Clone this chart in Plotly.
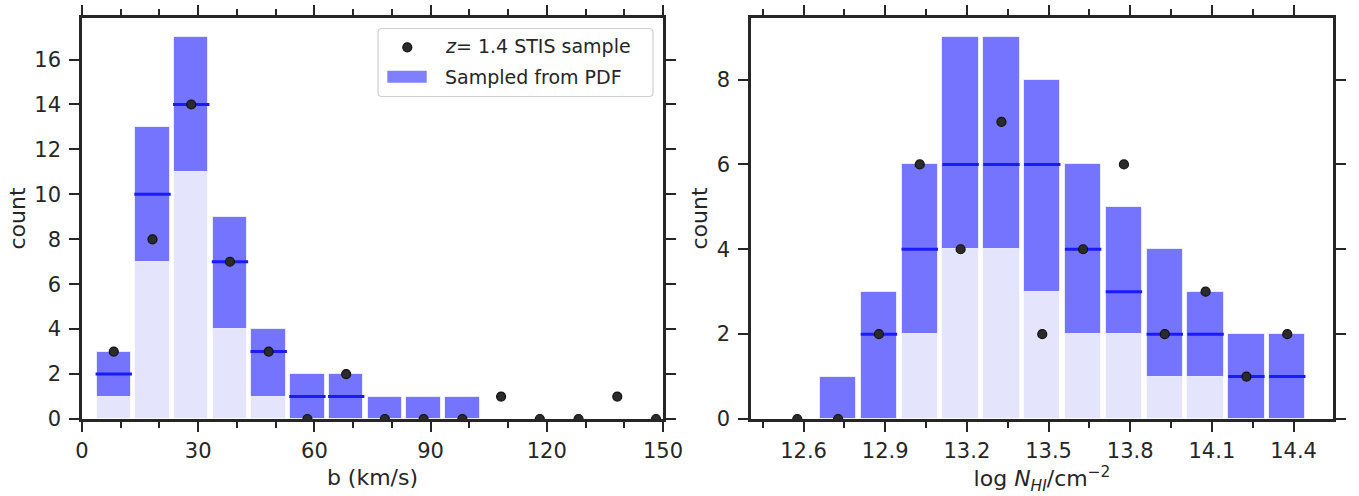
import plotly.graph_objects as go

# ---- b-parameter distribution (left panel) ----
b_centers = [8.2, 18.2, 28.2, 38.2, 48.2, 58.2, 68.2, 78.2, 88.2, 98.2,
             108.2, 118.2, 128.2, 138.2, 148.2]
b_low = [1, 7, 11, 4, 1, 0, 0, 0, 0, 0, 0, 0, 0, 0, 0]
b_high = [3, 13, 17, 9, 4, 2, 2, 1, 1, 1, 0, 0, 0, 0, 0]
b_med = [2, 10, 14, 7, 3, 1, 1, None, None, None, None, None, None, None, None]
b_obs = [3, 8, 14, 7, 3, 0, 2, 0, 0, 0, 1, 0, 0, 1, 0]
b_ticks = [0, 30, 60, 90, 120, 150]

# ---- column density distribution (right panel) ----
n_centers = [12.577, 12.727, 12.877, 13.027, 13.177, 13.327, 13.477,
             13.627, 13.777, 13.927, 14.077, 14.227, 14.377]
n_low = [0, 0, 0, 2, 4, 4, 3, 2, 2, 1, 1, 0, 0]
n_high = [0, 1, 3, 6, 9, 9, 8, 6, 5, 4, 3, 2, 2]
n_med = [None, None, 2, 4, 6, 6, 6, 4, 3, 2, 2, 1, 1]
n_obs = [0, 0, 2, 6, 4, 7, 2, 4, 6, 2, 3, 1, 2]
n_ticks = [12.6, 12.9, 13.2, 13.5, 13.8, 14.1, 14.4]

LIGHT = "#e4e4fc"
BLUE = "#7474ff"
DASH = "#1a1aff"
INK = "#262626"
FONT = "DejaVu Sans"

W, H = 1359, 496
ML, MR, MT, MB = 82, 26, 18, 77
PW, PH = W - ML - MR, H - MT - MB


def px(x):
    return (x - ML) / PW


def py(y):
    return (H - MB - y) / PH


fig = go.Figure()


def add_panel(xa, ya, centers, low, high, med, obs, width):
    edge = dict(color="rgba(255,255,255,0.7)", width=1)
    fig.add_trace(go.Bar(x=centers, y=low, width=width, marker=dict(color=LIGHT, line=edge),
                         xaxis=xa, yaxis=ya, showlegend=False))
    fig.add_trace(go.Bar(x=centers, y=[h - l for h, l in zip(high, low)], base=low, width=width,
                         marker=dict(color=BLUE, line=edge),
                         xaxis=xa, yaxis=ya, showlegend=False))
    fig.add_trace(go.Scatter(x=centers, y=med, mode="markers",
                             marker=dict(symbol="line-ew", size=26, line=dict(color=DASH, width=3)),
                             xaxis=xa, yaxis=ya, showlegend=False))
    fig.add_trace(go.Scatter(x=centers, y=obs, mode="markers",
                             marker=dict(symbol="circle", size=9, color="#2b2b2b",
                                         line=dict(color="#111111", width=1.2)),
                             xaxis=xa, yaxis=ya, showlegend=False))


add_panel("x", "y", b_centers, b_low, b_high, b_med, b_obs, 8.9)
add_panel("x2", "y2", n_centers, n_low, n_high, n_med, n_obs, 0.1335)

axis_common = dict(
    showline=True, linewidth=2.5, linecolor=INK, mirror="allticks",
    ticks="outside", ticklen=10, tickwidth=2, tickcolor=INK,
    showgrid=False, zeroline=False, automargin=False,
    tickfont=dict(family=FONT, size=21, color=INK),
    title_font=dict(family=FONT, size=22, color=INK),
)

fig.update_layout(
    width=W, height=H,
    margin=dict(l=ML, r=MR, t=MT, b=MB),
    paper_bgcolor="white", plot_bgcolor="white",
    barmode="overlay", bargap=0,
    showlegend=False,
    xaxis=dict(domain=[0, 581 / PW], range=[0, 150], tickvals=b_ticks,
               minor=dict(ticks="outside", dtick=10, tick0=0, ticklen=6, tickwidth=1.5, tickcolor=INK),
               ticklabelstandoff=1,
               title=dict(text="b (km/s)", standoff=8), **axis_common),
    yaxis=dict(domain=[0, 1], range=[0, 17.85], dtick=2, tick0=0, ticklabelstandoff=4,
               title=dict(text="count", standoff=3), **axis_common),
    xaxis2=dict(domain=[669 / PW, 1], range=[12.407, 14.545], anchor="y2",
                tickvals=n_ticks, ticktext=[f"{t:.1f}" for t in n_ticks],
                minor=dict(ticks="outside", dtick=0.15, tick0=12.45, ticklen=6, tickwidth=1.5, tickcolor=INK),
                ticklabelstandoff=1,
                title=dict(text="log <i>N</i><sub><i>HI</i></sub>/cm<sup>\u22122</sup>", standoff=8),
                **axis_common),
    yaxis2=dict(domain=[0, 1], range=[0, 9.45], dtick=2, tick0=0, anchor="x2", ticklabelstandoff=4,
                title=dict(text="count", standoff=3), **axis_common),
)

# ---- legend box ----
x0, x1, y0, y1, r = 378, 653, 28.5, 96.5, 4
path = (f"M {px(x0 + r)},{py(y0)} L {px(x1 - r)},{py(y0)} Q {px(x1)},{py(y0)} {px(x1)},{py(y0 + r)} "
        f"L {px(x1)},{py(y1 - r)} Q {px(x1)},{py(y1)} {px(x1 - r)},{py(y1)} "
        f"L {px(x0 + r)},{py(y1)} Q {px(x0)},{py(y1)} {px(x0)},{py(y1 - r)} "
        f"L {px(x0)},{py(y0 + r)} Q {px(x0)},{py(y0)} {px(x0 + r)},{py(y0)} Z")
fig.add_shape(type="path", path=path, xref="paper", yref="paper",
              line=dict(color="#d0d0d0", width=1.2), fillcolor="rgba(255,255,255,0.85)")
fig.add_shape(type="circle", xref="paper", yref="paper",
              x0=px(407.3 - 4.5), x1=px(407.3 + 4.5), y0=py(47.3 + 4.5), y1=py(47.3 - 4.5),
              fillcolor="#2b2b2b", line=dict(color="#111111", width=1.2))
fig.add_shape(type="rect", xref="paper", yref="paper",
              x0=px(387.3), x1=px(426.7), y0=py(82.7), y1=py(70.7),
              fillcolor="#8080ff", line=dict(width=0))
fig.add_annotation(x=px(443), y=py(46.5), xref="paper", yref="paper", xanchor="left", yanchor="middle",
                   text="<i>z</i>= 1.4 STIS sample", showarrow=False,
                   font=dict(family=FONT, size=19, color=INK))
fig.add_annotation(x=px(443), y=py(77), xref="paper", yref="paper", xanchor="left", yanchor="middle",
                   text="Sampled from PDF", showarrow=False,
                   font=dict(family=FONT, size=19, color=INK))

fig.write_html("out.html")
